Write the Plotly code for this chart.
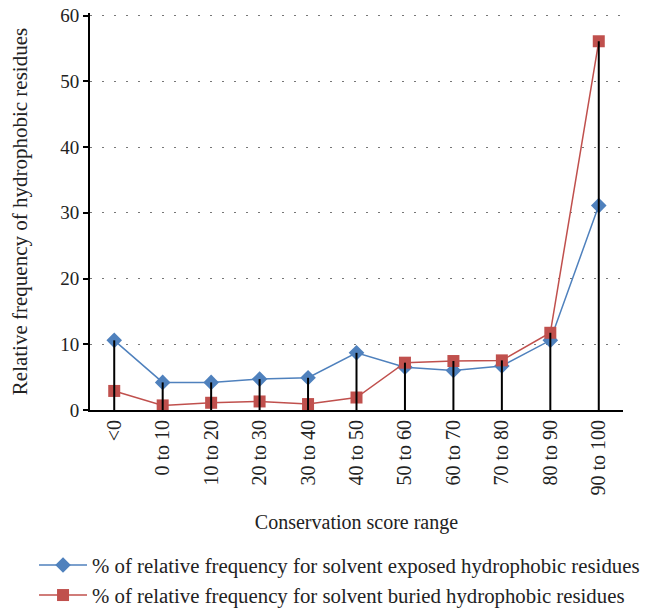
import plotly.graph_objects as go

categories = ["<0", "0 to 10", "10 to 20", "20 to 30", "30 to 40", "40 to 50",
              "50 to 60", "60 to 70", "70 to 80", "80 to 90", "90 to 100"]
exposed = [10.6, 4.2, 4.2, 4.7, 4.9, 8.7, 6.5, 6.0, 6.7, 10.6, 31.1]
buried = [2.9, 0.7, 1.1, 1.3, 0.9, 1.9, 7.2, 7.45, 7.55, 11.75, 56.1]

name_exp = "% of relative frequency for solvent exposed hydrophobic residues"
name_bur = "% of relative frequency for solvent buried hydrophobic residues"

FONT = "Liberation Serif"
TXT = "#222"
BLUE = "#4F81BD"
RED = "#C0504D"

# drop lines from the higher of the two series to the axis
drop_x, drop_y = [], []
for c, a, b in zip(categories, exposed, buried):
    drop_x += [c, c, None]
    drop_y += [0, max(a, b), None]

fig = go.Figure()
fig.add_trace(go.Scatter(
    x=categories, y=exposed, name=name_exp, mode="lines+markers",
    line=dict(color=BLUE, width=1.5),
    marker=dict(symbol="diamond", size=12, color=BLUE),
))
fig.add_trace(go.Scatter(
    x=categories, y=buried, name=name_bur, mode="lines+markers",
    line=dict(color=RED, width=1.5),
    marker=dict(symbol="square", size=12, color=RED),
))
fig.add_trace(go.Scatter(
    x=drop_x, y=drop_y, mode="lines", showlegend=False, hoverinfo="skip",
    line=dict(color="black", width=2),
))

# page body adds an 8px offset, so the figure is 8px smaller on each axis
fig.update_layout(
    width=647, height=604,
    margin=dict(l=82, r=32, t=4.6, b=201.8, autoexpand=False),
    paper_bgcolor="white", plot_bgcolor="white",
    font=dict(family=FONT, size=19, color=TXT),
    xaxis=dict(
        type="category", categoryorder="array", categoryarray=categories,
        range=[-0.5, 10.5], tickangle=-90, showgrid=False,
        showline=True, linecolor="black", linewidth=2, ticks="",
        tickfont=dict(family=FONT, size=20, color=TXT),
        title=dict(text="Conservation score range", font=dict(family=FONT, size=20, color=TXT), standoff=20),
        zeroline=False,
    ),
    yaxis=dict(
        range=[0, 60.4], tickvals=[0, 10, 20, 30, 40, 50, 60],
        showgrid=True, gridcolor="#777", griddash="2px,10px", gridwidth=1.2,
        showline=True, linecolor="black", linewidth=2,
        ticks="outside", ticklen=5, tickwidth=2, tickcolor="black",
        tickfont=dict(family=FONT, size=19, color=TXT), ticklabeloverflow="allow",
        title=dict(text="Relative frequency of hydrophobic residues", font=dict(family=FONT, size=21, color=TXT), standoff=30),
        zeroline=False,
    ),
    legend=dict(
        orientation="v",
        x=-0.105, xanchor="left", y=-0.34, yanchor="top",
        font=dict(family=FONT, size=20.8, color=TXT),
        bgcolor="rgba(0,0,0,0)", tracegroupgap=0, itemwidth=48,
    ),
    showlegend=True,
)

fig.write_html("out.html")
